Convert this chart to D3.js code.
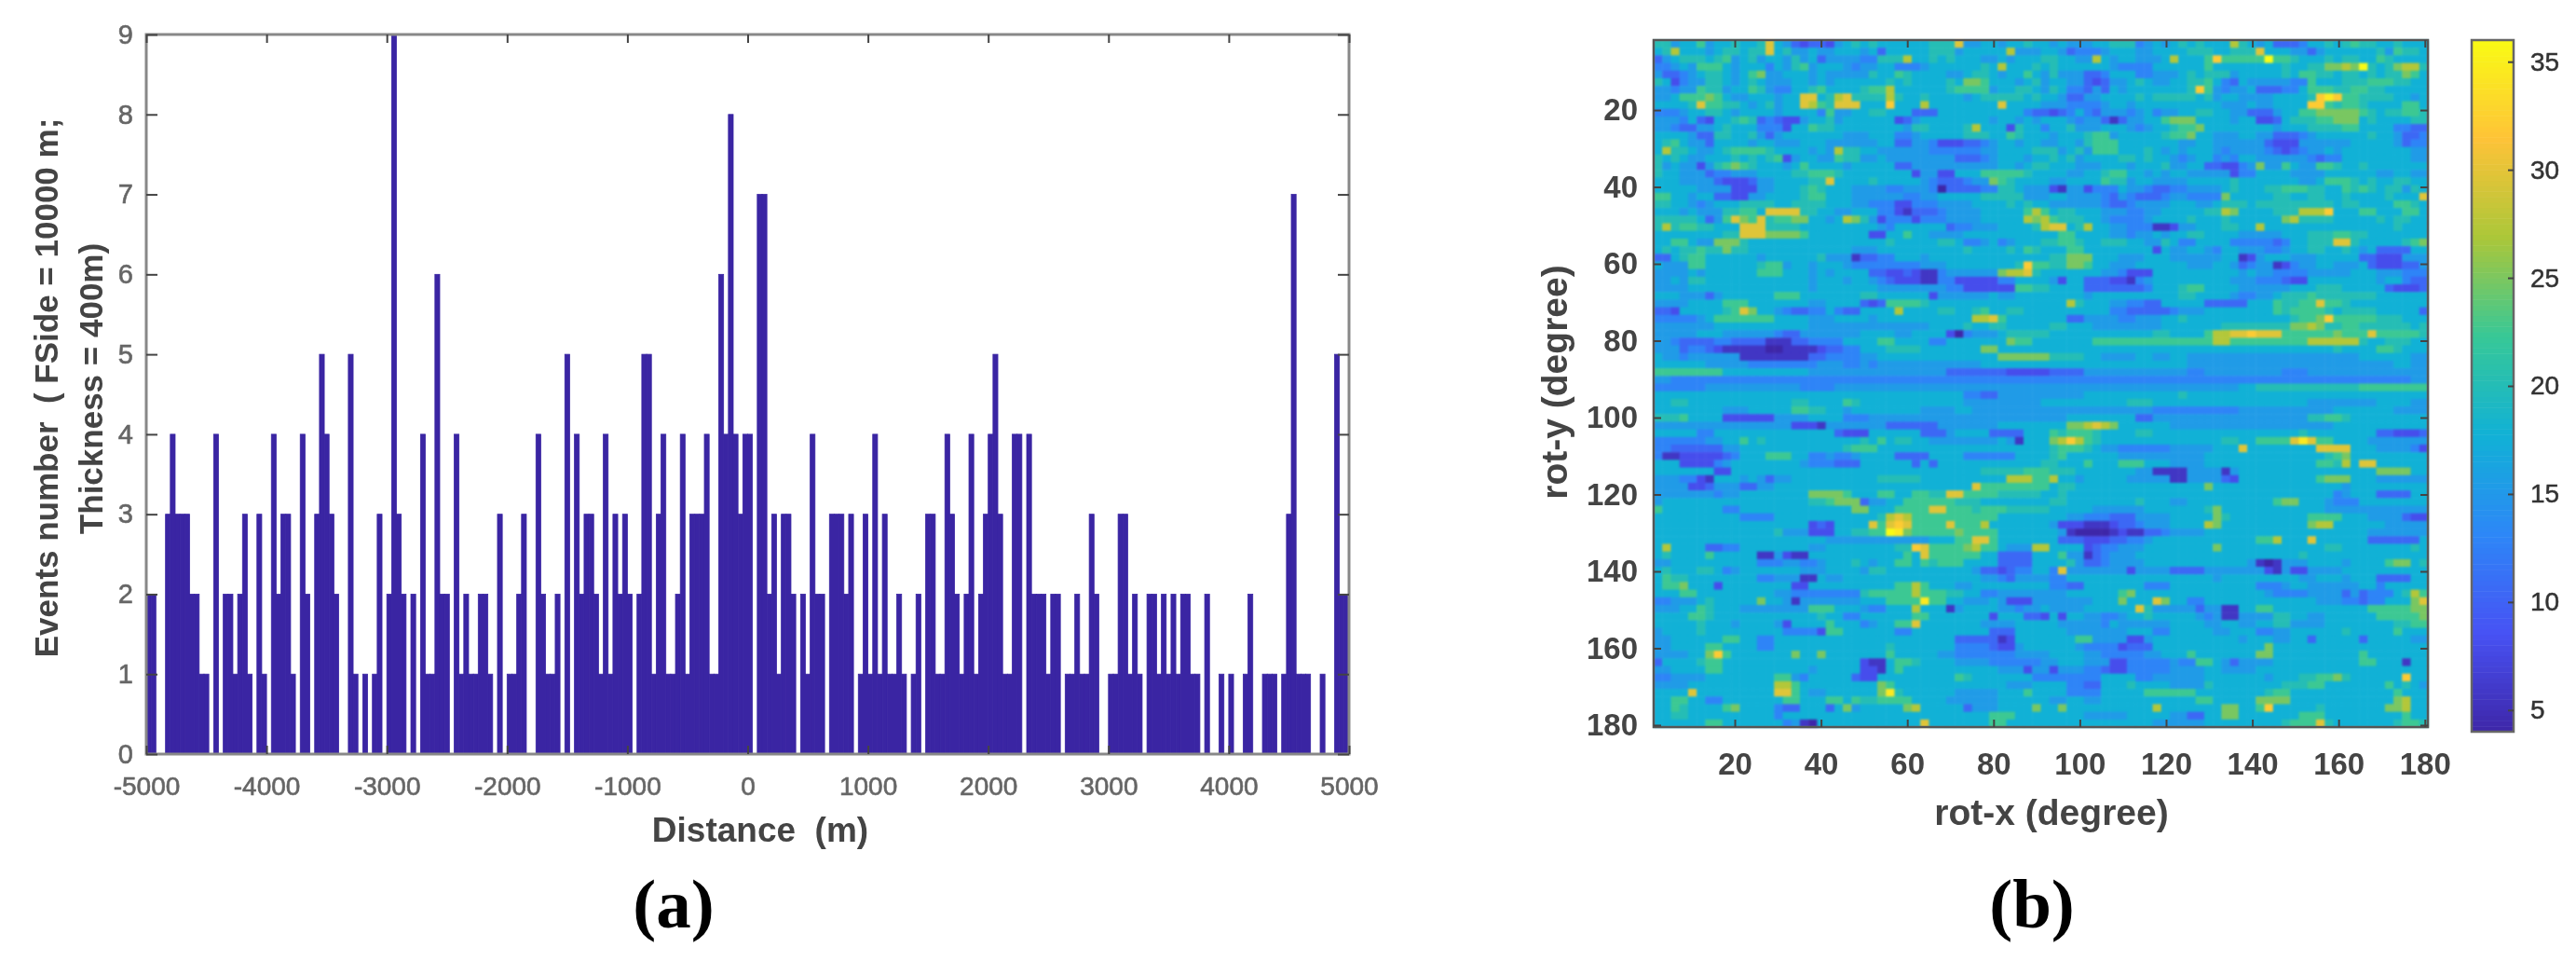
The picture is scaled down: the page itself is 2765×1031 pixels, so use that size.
<!DOCTYPE html>
<html>
<head>
<meta charset="utf-8">
<title>Events histogram and rotation map</title>
<script src="https://cdnjs.cloudflare.com/ajax/libs/d3/7.8.5/d3.min.js"></script>
<style>
  html, body { margin: 0; background: #fff; }
  svg { display: block; filter: blur(0.6px); }
  text { font-family: "Liberation Sans", Arial, sans-serif; }
</style>
</head>
<body>
<svg id="fig" width="2765" height="1031"></svg>
<script>
// Panel (a): events per 40 m distance bin, left to right from -5000 m
const eventCounts = [
  2,2,0,0,3,4,3,3,3,2, 2,1,1,0,4,0,2,2,1,2, 3,1,0,3,1,0,4,2,3,3, 1,0,4,2,0,3,5,4,3,2,
  0,0,5,1,0,1,0,1,3,0, 2,9,3,2,0,2,0,4,1,1, 6,2,2,0,4,1,2,1,1,2, 2,1,0,3,0,1,1,2,3,0,
  0,4,2,1,1,2,0,5,0,4, 2,3,3,2,1,4,1,3,2,3, 2,0,2,5,5,1,3,4,1,1, 2,4,1,3,3,3,4,1,1,6,
  4,8,4,3,4,4,0,7,7,2, 3,1,3,3,2,0,2,1,4,2, 2,0,3,3,3,2,3,0,1,3, 1,4,1,3,1,1,2,1,0,1,
  2,0,3,3,1,1,4,3,2,1, 2,4,1,2,3,4,5,3,1,1, 4,4,0,4,2,2,2,1,2,2, 0,1,1,2,1,1,3,2,0,0,
  1,1,3,3,1,2,1,0,2,2, 1,2,1,2,1,2,2,1,1,0, 2,0,0,1,0,1,0,0,1,2, 0,0,1,1,1,0,1,3,7,1,
  1,1,0,0,1,0,0,5,2,2
];
const binWidth = 40;
const distanceTicks = [-5000, -4000, -3000, -2000, -1000, 0, 1000, 2000, 3000, 4000, 5000];
const countTicks = [0, 1, 2, 3, 4, 5, 6, 7, 8, 9];

// Panel (b): one string per rot-y row (2 degree cells), one hex digit per rot-x cell.
// a digit d stands for the value 3.3 + 2.4d.
const heatRows = [
  "7756685667 667b653233 2567676666 66777b5566 5667665655 5667774565 6767666a76 5633346676 7877667666",
  "67a6665677 677b675565 5666563666 6677756666 6a55566534 4456665566 6677766777 b666553566 6666758776",
  "3567776785 6756657563 555544777a 6676766655 6566677665 5a65665556 a6668c8888 8e88766676 7766876666",
  "4456588865 6664657856 6654556644 4566666676 a666767666 6665444466 6666866666 6667667799 a9f7679aa7",
  "5334567765 6895566656 5555576687 6666556776 5668657555 3346664455 5676777566 6667688776 7767677986",
  "7624557765 6765556656 5666666767 6666769986 6656756655 3235567655 6677864365 5555448666 7778887766",
  "5545587756 6875446678 6666788a66 6666788885 6677657644 3536566666 667c854556 3334468887 7887766666",
  "5568889865 5666566bb6 7ab7777a76 6766665677 7776766533 5566667677 7776756655 5566667cdc 8877776656",
  "66667b8877 6567566ba8 7bbb666c66 6a66666666 b666655544 4456656666 6666665556 556666cc87 8876666886",
  "4445667765 6666566664 8556677666 3336666666 6664332346 4355545645 5667766553 3356688999 9987677887",
  "5554632667 8734322566 7566666623 5666666665 6656566654 5531355668 9996666566 2236777889 9967666677",
  "5543355676 6644426687 7666666665 7766667a66 6276646675 5566654566 7889666666 6656667777 8866664433",
  "6666533776 6753566666 6655566644 5666667776 6876665666 7885666667 8896655566 5533345666 6667665334",
  "6786553666 6566555666 5555556633 5542223345 6656655665 7888666666 6556655555 5322255555 5666665344",
  "6a77655678 8887666656 5a77665555 5544444455 6666777567 5888666765 6566654555 5432345565 6666666655",
  "7676556667 6767825665 5877556555 5555533345 6665667675 6666776766 5456645466 5555554344 6666666655",
  "7565525789 8766656866 6656666633 5555555555 6656776665 5566656667 5566332245 9558655887 6676666666",
  "7665553445 5566667788 8766666666 2552266688 8887666655 6678866565 6655555244 6666555566 6666556655",
  "6665555322 2355666677 b666676666 6543334559 8766665566 6687756655 5566666766 6666655688 8767667766",
  "6666655552 2255666787 6665555445 5540333344 7765552155 2444655433 4455556766 6778887766 8787677576",
  "8866566332 2556666788 6665555554 4556666677 7775556655 5543543334 5544449666 6677667766 766667666b",
  "7766545666 7777667777 6665544422 4445555666 6767665555 5543345555 6665567776 7777777776 7766668876",
  "6665655577 886bbbb776 6556664421 3334555566 6668a86776 6655544556 666677a966 66777aaac6 6688666886",
  "777776358b 98b7889966 56a9752444 2444555566 666a9a8777 6654444566 6676667666 6669a77776 6666767766",
  "7a78877666 bbb7777666 6666665466 6666344555 66667abb67 a665544411 2556667766 a666666666 6666667666",
  "6666666677 bbb9999866 6666622668 6655556666 6666666886 6665545565 6677666655 5556667778 8776666666",
  "6688655999 7666666666 6666666766 6667764456 4566677887 6677766557 6446666444 443466777b b766666789",
  "6767787797 7666666666 6665556666 6666667666 6768766688 6666666626 5566546655 5445667766 7656333366",
  "3367886666 6656666667 5551334466 6566666666 6666667799 9666555666 5555556612 5666555666 6633222555",
  "6555886666 6678856656 6654444444 4555666666 667c887799 8665556666 6655566534 5512455665 5563222335",
  "5555656666 6688866656 5666633223 2114555555 9aab766666 6655422266 6666666656 5544445555 5666555444",
  "5565776666 6666666656 6656654322 2114422222 4466665266 3332214566 6666666555 4443226666 6666566433",
  "5555666666 6666666656 6666665555 5555442222 2288776666 3333333466 6788666655 5555666777 6666632223",
  "6665553566 6666888666 6666776666 6625555556 5566666666 5666666666 6776666544 5567778777 7777666666",
  "5555666688 8666666655 6666323888 8766666666 66666666a7 6665544336 6666333336 6687788b88 7666666666",
  "3326666678 b966543344 64336666a6 6667766786 6776666666 6664433333 4555666666 6687888876 7777666663",
  "4444456888 8888666655 5666656666 6666666aab 8666666633 5555445556 6766666666 66667889c8 8888777666",
  "5555555666 6666666655 5555555555 5566667667 7666667766 6555555556 6666667777 777799a977 8877777767",
  "5555566655 5555433555 5555666655 6666204555 6777776666 6666666677 66668aabbc bbb8888889 888b888887",
  "5543333443 3331113344 4466668866 6644666666 6988666666 6888888888 88888aa888 888888aaaa aa76677766",
  "5553443211 1110011112 3344666777 7666666699 6666666666 6666666666 6666666666 6666666667 6666887666",
  "6554555555 1111111133 4444556666 6666666666 9999997777 6655556655 6655555555 5555555555 5566666655",
  "6666665555 5444444445 5544545555 5555555566 6666666666 6666666666 6655555555 5555555555 5555556655",
  "8888888866 6666666655 5555555555 5555333333 3222223333 5555555555 5544555555 5554445555 5555555555",
  "5544444444 4444444444 4444444444 4444444444 4444444444 4444444444 4444444444 4444444444 4444444455",
  "4444445555 5555555444 4555555555 5555555555 5555555555 5555555555 5555555566 7777777777 7788888888",
  "6666666666 6666666666 6666666666 6666664433 5555555555 6666666666 6766666666 6666666666 6666666666",
  "6677666666 6666667766 6687666666 6666665555 5555566666 6666677766 6666666666 6666665555 5555666655",
  "6666666655 5666668877 6656666666 6555566555 5555555555 5555555544 4444444455 5555555556 6666665555",
  "7778666622 2222555566 6644455555 5555555555 5555555566 6666663355 5555555555 5555557788 7666666666",
  "5555555555 5555552221 5555555333 3335555555 6666666699 aba9666666 5555555555 5555555556 6666666666",
  "6666644666 6666666666 6322266666 6333566663 3336668788 8766667766 6666666666 6666676666 6666332223",
  "4444445566 8676666666 6666768677 6655555555 6516669aca 8766666666 6666667766 8888bdb886 6665555555",
  "4433333355 6666666666 6678886666 6666666666 6666667888 7655444444 55555666b6 6666666bbb b666555542",
  "4112222234 6668886644 5445666633 3366664444 4466667866 6666555555 5555666666 6666666678 9666666666",
  "6662222456 6666666544 4333666666 3636666666 6666677666 8666888666 5555666666 6666666887 a6bb666666",
  "6666666226 6666666666 6666666666 6666666677 7778887776 6666665511 1155551566 6666666666 6666999966",
  "5554421666 5653556666 6666667777 7666666666 6aaa88a665 6666655555 1155553266 6666666899 9666555555",
  "5555223555 3355666666 6666666666 6666666b88 8888886776 6666666666 6666966666 6666666666 5666666666",
  "5555555455 6666666699 9986668866 8877bb8888 7777766766 6666666666 6666666666 6666666664 5666333366",
  "5666666666 6666666677 8999355668 8888877766 6666667766 6666667666 5566666666 6689966654 4466666666",
  "8666666644 6666666666 6669966688 88bb888788 8777776666 6555555666 6666796666 6666666655 5555555555",
  "6666666666 4444666666 6666667aba 8888888888 6666666655 4443335555 6666697666 6666668888 6665555322",
  "6666666666 6666666623 26666b8bcb 8888b888a6 6666665222 1112334555 6666a96666 6666669aa6 6666655555",
  "6666666666 6666755522 2667788ed9 8888898888 6666666510 0001211334 5555666666 6666666666 6665555555",
  "6666666666 6666666666 5555555555 5566688bb8 6666666333 2223344566 6666666666 88a666b666 6663333336",
  "6a66663344 6666666655 6666666677 cb88889a88 6555aa6666 2344555666 6666696666 6666666677 6666666676",
  "6766668666 6611521166 6666666668 6b88888866 3333666855 1345556666 6666666666 6666676666 6666666666",
  "5566666666 6644455445 6667656688 6878886666 3333666675 3345555666 6666666665 1015556666 5666689967",
  "6766677645 6666666555 6666577666 6666666533 2344664b55 5555525555 3333555555 5215225555 6666666666",
  "6877666666 6644555116 5566666666 6666666655 4355554466 6666666666 6666656666 6666655666 5666333366",
  "6889666266 6666662266 6666666688 a866655666 6666664433 6666666444 6666666666 4445665555 5566466666",
  "6668866666 6666554444 4444788888 a888776644 5555555566 6666896666 6666666666 6544445555 35344467a8",
  "4455567666 6696651555 5555666888 8d88665556 5222555555 56669666b9 6644666666 6666666555 443446669b",
  "5556687666 5555555588 8666544666 a666156666 5545565555 666666b755 5553551166 8866666666 6668888899",
  "6666887666 6666666667 6644666666 8866666662 6663326266 5544566766 6665451155 5577665566 6666888889",
  "6666676665 6666526666 8666456688 b666666655 5566666555 5546555555 6666556655 6677555566 6666667788",
  "5666676666 6666644442 8866666644 6666666663 3366666655 5555566644 6666655666 4455666666 7666668666",
  "5566666688 6644666666 6666666666 6666633333 1266666668 8555522566 6666666656 6655663666 6636666655",
  "5566668866 6644666666 6666666766 6666644443 2256666665 4444233366 6666666666 6966666666 6666666666",
  "5555669c86 6666669669 6666666866 6665544444 4455556666 5544444556 6686666666 9966666666 6686666666",
  "3666678866 6666666666 6666211688 7666655554 4444455666 5552244444 5448865355 5566666666 6688666166",
  "5566668866 6666666656 6666221686 6666666666 5552552555 4432244444 5555665555 6666666666 6666666666",
  "4455556666 6666885466 6663226666 6666687666 6666444444 4466664455 5555666666 6566677889 7666666c66",
  "5555666666 6666aa8666 6666669866 6666666666 6555666644 3366676666 5555766666 6667778866 6666686765",
  "6666b66666 6666bb8655 6666669d76 6666655555 6668666644 4466666888 8886666666 6788666666 6666668666",
  "6688664466 6666688666 8868778888 6666555555 6666665566 5566666666 6668866666 9999666666 6666669a66",
  "6687666689 6666433666 3695666669 a666663555 6666966966 66666666a6 6666669966 8c66666766 6666699a66",
  "6677666666 6666466666 6666666666 6666666668 8866666666 5555566666 5533669966 6666688866 6666666866",
  "6666668866 6666645106 6666666666 6b66666668 8666666666 6666666655 5555666666 6667888b76 6666667887"
];
const rotTicks = [20, 40, 60, 80, 100, 120, 140, 160, 180];
const colorbarTicks = [5, 10, 15, 20, 25, 30, 35];
const parula = ['#3e26a8', '#4752f4', '#2d87f7', '#11b1d6', '#37c897', '#abc739', '#fec338', '#f9fb14'];

const svg = d3.select('#fig');
const LABEL = '#444';

// Axis text: thin tick lines, domain dropped because addBox draws the frame
function styleAxis(g, size, weight, fill, halo) {
  g.selectAll('.domain').remove();
  g.selectAll('.tick line').attr('stroke', '#444').attr('stroke-width', 2);
  g.selectAll('.tick text')
    .attr('font-size', size)
    .attr('font-weight', weight)
    .attr('fill', fill)
    .attr('stroke', halo ? fill : 'none')
    .attr('stroke-width', halo || 0);
}

function addBox(x0, y0, x1, y1, stroke, width) {
  svg.append('rect')
    .attr('x', x0).attr('y', y0)
    .attr('width', x1 - x0).attr('height', y1 - y0)
    .attr('fill', 'none')
    .attr('stroke', stroke)
    .attr('stroke-width', width);
}

function addLabel(x, y, str, size, rotate) {
  const t = svg.append('text')
    .attr('text-anchor', 'middle')
    .attr('font-size', size)
    .attr('font-weight', 'bold')
    .attr('fill', LABEL)
    .attr('xml:space', 'preserve')
    .style('white-space', 'pre')
    .text(str);
  t.attr('transform', rotate ? `translate(${x},${y}) rotate(-90)` : `translate(${x},${y})`);
}

// --- Panel (a): histogram ---
function drawHistogram() {
  const x = d3.scaleLinear().domain([-5000, 5000]).range([157, 1448]);
  const y = d3.scaleLinear().domain([0, 9]).range([809, 37]);

  svg.append('g')
    .selectAll('rect')
    .data(eventCounts)
    .join('rect')
    .attr('x', (d, i) => x(-5000 + i * binWidth))
    .attr('y', d => y(d))
    .attr('width', x(binWidth) - x(0))
    .attr('height', d => y(0) - y(d))
    .attr('fill', '#3a25a3')
    .attr('stroke', '#3a25a3')
    .attr('stroke-width', 0.8);

  addBox(157, 37, 1448, 809, '#888', 3);

  svg.append('g')
    .attr('transform', 'translate(0,809)')
    .call(d3.axisBottom(x).tickValues(distanceTicks).tickFormat(d => String(d)).tickSizeInner(-9).tickPadding(24))
    .call(styleAxis, 28, 'normal', '#666', 0.6);
  svg.append('g')
    .attr('transform', 'translate(0,37)')
    .call(d3.axisTop(x).tickValues(distanceTicks).tickFormat('').tickSizeInner(-9))
    .call(styleAxis, 28, 'normal', '#666', 0.6);
  svg.append('g')
    .attr('transform', 'translate(157,0)')
    .call(d3.axisLeft(y).tickValues(countTicks).tickSizeInner(-12).tickPadding(14))
    .call(styleAxis, 29, 'normal', '#666', 0.6);
  svg.append('g')
    .attr('transform', 'translate(1448,0)')
    .call(d3.axisRight(y).tickValues(countTicks).tickFormat('').tickSizeInner(-12))
    .call(styleAxis, 28, 'normal', '#666', 0.6);

  addLabel(816, 903, 'Distance  (m)', 37, false);
  addLabel(62, 416, 'Events number  ( FSide = 10000 m;', 35, true);
  addLabel(110, 417, 'Thickness = 400m)', 35, true);
}

// --- Panel (b): heatmap ---
function drawHeatmap() {
  const rows = heatRows.map(r => r.replace(/ /g, ''));
  const color = d3.scaleLinear()
    .domain(parula.map((_, i) => 4 + 32 * i / (parula.length - 1)))
    .range(parula)
    .clamp(true);

  const col = d3.scaleBand().domain(d3.range(90)).range([1775, 2606]);
  const row = d3.scaleBand().domain(d3.range(90)).range([43, 780]);
  const x = d3.scaleLinear().domain([1.2, 180.7]).range([1775, 2606]);
  const y = d3.scaleLinear().domain([1.8, 180.5]).range([43, 780]);

  const cells = [];
  rows.forEach((r, j) => {
    for (let i = 0; i < r.length; i++) {
      cells.push({ i, j, value: 3.3 + 2.4 * parseInt(r[i], 16) });
    }
  });

  svg.append('g')
    .style('filter', 'blur(1.1px)')
    .selectAll('rect')
    .data(cells)
    .join('rect')
    .attr('x', d => col(d.i))
    .attr('y', d => row(d.j))
    .attr('width', col.bandwidth() + 0.5)
    .attr('height', row.bandwidth() + 0.5)
    .attr('fill', d => color(d.value));

  addBox(1775, 43, 2606, 780, '#555', 2.5);

  svg.append('g')
    .attr('transform', 'translate(0,780)')
    .call(d3.axisBottom(x).tickValues(rotTicks).tickSizeInner(-8).tickPadding(28))
    .call(styleAxis, 33, 'bold', '#444');
  svg.append('g')
    .attr('transform', 'translate(0,43)')
    .call(d3.axisTop(x).tickValues(rotTicks).tickFormat('').tickSizeInner(-8))
    .call(styleAxis, 33, 'bold', '#444');
  svg.append('g')
    .attr('transform', 'translate(1775,0)')
    .call(d3.axisLeft(y).tickValues(rotTicks).tickSizeInner(-8).tickPadding(17))
    .call(styleAxis, 33, 'bold', '#444');
  svg.append('g')
    .attr('transform', 'translate(2606,0)')
    .call(d3.axisRight(y).tickValues(rotTicks).tickFormat('').tickSizeInner(-8))
    .call(styleAxis, 33, 'bold', '#444');

  addLabel(2202, 885, 'rot-x (degree)', 39, false);
  addLabel(1682, 410, 'rot-y (degree)', 39, true);

  // Colorbar
  const cy = d3.scaleLinear().domain([4, 36]).range([785, 43]);
  svg.append('g')
    .selectAll('rect')
    .data(d3.range(4, 36, 0.25))
    .join('rect')
    .attr('x', 2653)
    .attr('y', d => cy(d + 0.25))
    .attr('width', 45)
    .attr('height', d => cy(d) - cy(d + 0.25) + 0.5)
    .attr('fill', d => color(d + 0.125));

  addBox(2653, 43, 2698, 785, '#666', 2.5);

  svg.append('g')
    .attr('transform', 'translate(2698,0)')
    .call(d3.axisRight(cy).tickValues(colorbarTicks).tickSizeInner(-6).tickPadding(18))
    .call(styleAxis, 28, 'normal', '#333', 0.5);
}

// --- Panel letters ---
function drawLetters() {
  svg.selectAll('.letter')
    .data([{ s: '(a)', x: 723 }, { s: '(b)', x: 2181 }])
    .join('text')
    .attr('class', 'letter')
    .attr('x', d => d.x)
    .attr('y', 995)
    .attr('text-anchor', 'middle')
    .attr('font-size', 75)
    .attr('font-weight', 'bold')
    .style('font-family', '"Liberation Serif", "Times New Roman", serif')
    .attr('fill', '#000')
    .text(d => d.s);
}

drawHistogram();
drawHeatmap();
drawLetters();
</script>
</body>
</html>
